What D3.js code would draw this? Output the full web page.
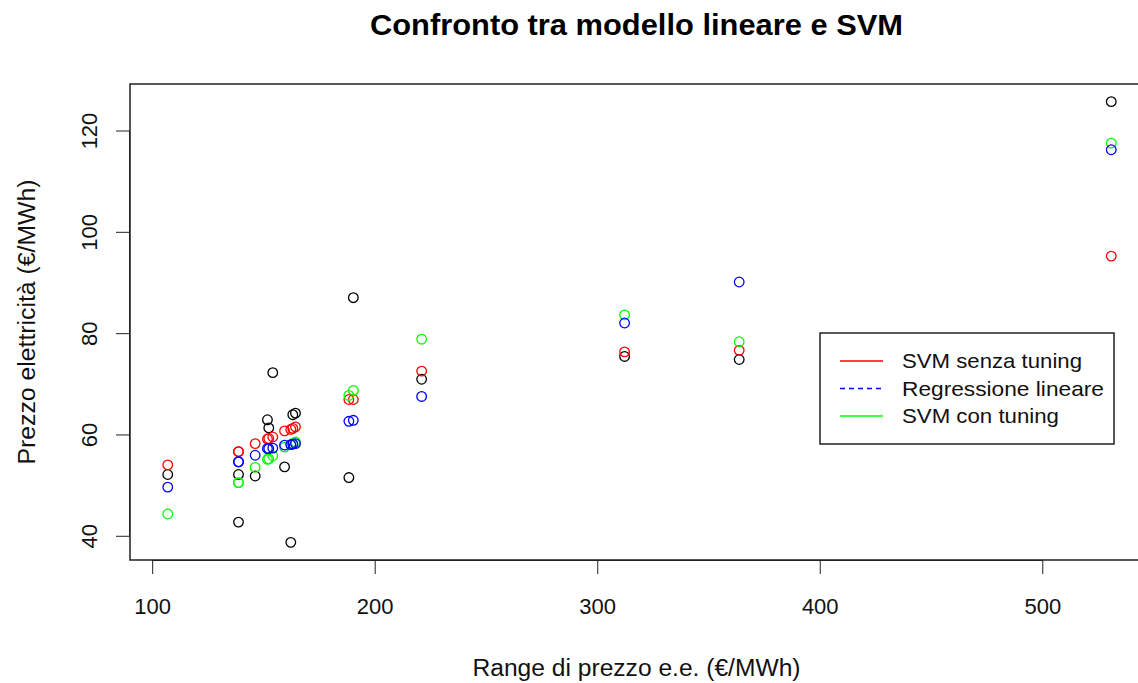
<!DOCTYPE html>
<html>
<head>
<meta charset="utf-8">
<script src="https://cdn.jsdelivr.net/npm/d3@7"></script>
<style>
  body { margin: 0; background: #fff; }
  svg { display: block; font-family: "Liberation Sans", Arial, sans-serif; }
</style>
</head>
<body>
<div id="chart"></div>
<script>
// range di prezzo (x) per ogni osservazione
const rangePrezzo = [107, 138.8, 138.8, 146.3, 151.8, 152.4, 154.2, 159.5, 162.3, 163.2, 164.4, 188.4, 190.4, 221.1, 312.3, 363.8, 531]
// valori osservati (neri)
const prezzoReale = [52.1, 52.1, 42.7, 51.8, 62.9, 61.3, 72.2, 53.6, 38.7, 63.9, 64.2, 51.5, 87.0, 70.9, 75.4, 74.8, 125.7]
// previsioni
const svmSenzaTuning = [54.0, 56.6, 56.6, 58.2, 59.1, 59.2, 59.5, 60.7, 61.0, 61.2, 61.5, 66.9, 66.9, 72.5, 76.3, 76.6, 95.2]
const regrLineare = [49.6, 54.6, 54.6, 55.9, 57.2, 57.2, 57.3, 57.9, 58.0, 58.1, 58.2, 62.6, 62.8, 67.5, 82.0, 90.1, 116.2]
const svmConTuning = [44.3, 50.5, 50.5, 53.5, 55.1, 55.2, 55.8, 57.5, 58.0, 58.2, 58.5, 67.7, 68.7, 78.8, 83.6, 78.3, 117.5]

const xTicks = [100, 200, 300, 400, 500]
const yTicks = [40, 60, 80, 100, 120]
const legendLabels = ["SVM senza tuning", "Regressione lineare", "SVM con tuning"]

const width = 1138
const height = 683
const marginLeft = 130
const marginTop = 84
const plotBottom = 560
const plotRight = 1149

// estensione del 4% come in R
const pad = (ext) => { const r = ext[1] - ext[0]; return [ext[0] - 0.04 * r, ext[1] + 0.04 * r] }
const allY = prezzoReale.concat(svmSenzaTuning, regrLineare, svmConTuning)

const x = d3.scaleLinear().domain(pad(d3.extent(rangePrezzo))).range([marginLeft, plotRight])
const y = d3.scaleLinear().domain(pad(d3.extent(allY))).range([plotBottom, marginTop])

const svg = d3.select("#chart").append("svg")
    .attr("width", width)
    .attr("height", height)
    .attr("viewBox", [0, 0, width, height])

svg.append("text")
    .attr("x", (marginLeft + plotRight) / 2 - 3)
    .attr("y", 35)
    .attr("text-anchor", "middle")
    .attr("font-size", 29)
    .attr("font-weight", "bold")
    .attr("textLength", 533)
    .attr("lengthAdjust", "spacingAndGlyphs")
    .text("Confronto tra modello lineare e SVM")

// assi
svg.append("g")
    .attr("transform", `translate(0,${plotBottom})`)
    .call(d3.axisBottom(x).tickValues(xTicks).tickSize(14).tickPadding(20).tickFormat(d3.format("d")))
    .call(g => g.select(".domain").attr("d", `M${x(100)},0.5H${x(500)}`))
    .call(g => g.selectAll("text").attr("font-size", 22).attr("fill", "#111").attr("dy", "0.9em"))
    .call(g => g.selectAll("line,path").attr("stroke", "#222"))

svg.append("g")
    .attr("transform", `translate(${marginLeft},0)`)
    .call(d3.axisLeft(y).tickValues(yTicks).tickSize(14).tickFormat(d3.format("d")))
    .call(g => g.select(".domain").attr("d", `M-0.5,${y(40)}V${y(120)}`))
    .call(g => g.selectAll("line,path").attr("stroke", "#222"))
    .call(g => g.selectAll("text")
        .attr("font-size", 22)
        .attr("fill", "#111")
        .attr("text-anchor", "middle")
        .attr("dy", null)
        .attr("x", null)
        .attr("transform", "translate(-41,0) rotate(-90)")
        .attr("y", 0)
        .attr("dominant-baseline", "central"))

svg.append("rect")
    .attr("x", marginLeft)
    .attr("y", marginTop)
    .attr("width", plotRight - marginLeft)
    .attr("height", plotBottom - marginTop)
    .attr("fill", "none")
    .attr("stroke", "#222")
    .attr("stroke-width", 1.5)

svg.append("text")
    .attr("x", (marginLeft + plotRight) / 2 - 3)
    .attr("y", 676)
    .attr("text-anchor", "middle")
    .attr("font-size", 23)
    .attr("fill", "#111")
    .attr("textLength", 328)
    .attr("lengthAdjust", "spacingAndGlyphs")
    .text("Range di prezzo e.e. (€/MWh)")

svg.append("text")
    .attr("transform", `translate(35,${(marginTop + plotBottom) / 2}) rotate(-90)`)
    .attr("text-anchor", "middle")
    .attr("font-size", 23)
    .attr("fill", "#111")
    .attr("textLength", 285)
    .attr("lengthAdjust", "spacingAndGlyphs")
    .text("Prezzo elettricità (€/MWh)")

// punti
const series = [
    { values: prezzoReale, color: "black" },
    { values: svmSenzaTuning, color: "red" },
    { values: svmConTuning, color: "#00ff00" },
    { values: regrLineare, color: "blue" },
]

series.forEach(s => {
    svg.append("g")
        .attr("fill", "none")
        .attr("stroke", s.color)
        .attr("stroke-width", 1.3)
        .selectAll("circle")
        .data(s.values)
        .join("circle")
        .attr("cx", (d, i) => x(rangePrezzo[i]))
        .attr("cy", d => y(d))
        .attr("r", 4.8)
})

// legenda
const legendColors = ["red", "blue", "#00ff00"]
const legend = svg.append("g").attr("transform", "translate(820,333)")
legend.append("rect")
    .attr("width", 294)
    .attr("height", 111)
    .attr("fill", "white")
    .attr("stroke", "#222")
    .attr("stroke-width", 1.5)

legendLabels.forEach((lab, i) => {
    const ly = 28 + i * 27.5
    legend.append("line")
        .attr("x1", 20).attr("x2", 63)
        .attr("y1", ly).attr("y2", ly)
        .attr("stroke", legendColors[i])
        .attr("stroke-width", 1.3)
        .attr("stroke-dasharray", i === 1 ? "5,4" : null)
    legend.append("text")
        .attr("x", 82)
        .attr("y", ly)
        .attr("dy", "0.35em")
        .attr("font-size", 21)
        .attr("fill", "#111")
        .attr("textLength", [180, 202, 157][i])
        .attr("lengthAdjust", "spacingAndGlyphs")
        .text(lab)
})
</script>
</body>
</html>
